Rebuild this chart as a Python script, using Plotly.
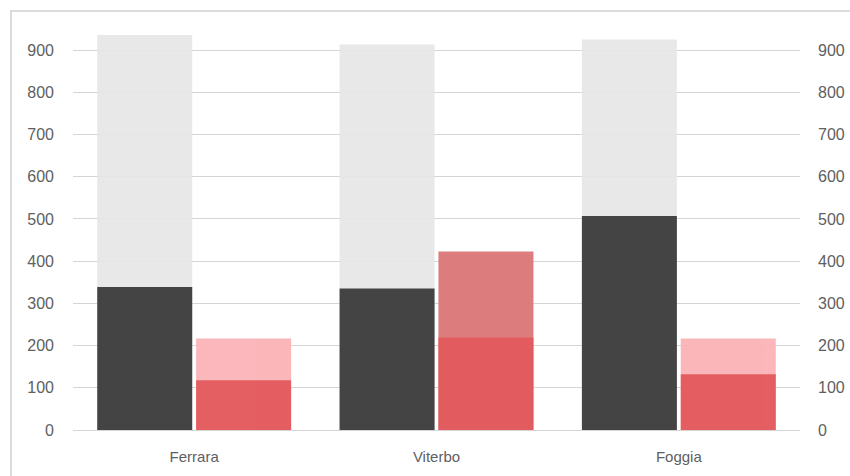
import plotly.graph_objects as go

# Categories and values
cities = ["Ferrara", "Viterbo", "Foggia"]
totale = [936, 913, 925]          # light grey background bars
valore_a = [339, 335, 507]        # dark bars
soglia_b = [217, 423, 217]        # light red background bars
valore_b = [118, 219, 132]        # red bars
tick_vals = [0, 100, 200, 300, 400, 500, 600, 700, 800, 900]

soglia_colors = ["#fbb3b7" if s < 300 else "#db7676" for s in soglia_b]

fig = go.Figure()

left_offset, right_offset, bar_w = -0.40, 0.008, 0.392

fig.add_trace(go.Bar(x=cities, y=totale, offset=left_offset, width=bar_w,
                     marker=dict(color="#e6e6e6", line=dict(width=0)), opacity=0.93,
                     showlegend=False, hoverinfo="y"))
fig.add_trace(go.Bar(x=cities, y=valore_a, offset=left_offset, width=bar_w,
                     marker=dict(color="#3b3b3b", line=dict(width=0)), opacity=0.95,
                     showlegend=False, hoverinfo="y"))
fig.add_trace(go.Bar(x=cities, y=soglia_b, offset=right_offset, width=bar_w,
                     marker=dict(color=soglia_colors, line=dict(width=0)), opacity=0.95,
                     showlegend=False, hoverinfo="y"))
fig.add_trace(go.Bar(x=cities, y=valore_b, offset=right_offset, width=bar_w,
                     marker=dict(color="#e35a5d", line=dict(width=0)), opacity=0.95,
                     showlegend=False, hoverinfo="y"))

# invisible trace so the right-hand axis is drawn
fig.add_trace(go.Scatter(x=cities, y=[0, 0, 0], yaxis="y2", mode="markers",
                         marker=dict(opacity=0), showlegend=False, hoverinfo="skip"))

tick_font = dict(family="Liberation Sans, Arial, sans-serif", size=16, color="#606060")

fig.update_layout(
    width=850, height=476,
    margin=dict(l=73, r=50, t=29, b=46, autoexpand=False),
    paper_bgcolor="white", plot_bgcolor="white",
    barmode="overlay",
    xaxis=dict(type="category", showgrid=False, showline=False, ticks="",
               tickfont=dict(family="Liberation Sans, Arial, sans-serif", size=15, color="#606060"),
               range=[-0.5, 2.5], ticklabelstandoff=16, automargin=False),
    yaxis=dict(range=[0, 950], tickvals=tick_vals, showgrid=True,
               gridcolor="#d5d5d5", gridwidth=1, zeroline=True,
               zerolinecolor="#d5d5d5", zerolinewidth=1, showline=False,
               ticks="", tickfont=tick_font, ticklabelstandoff=18, automargin=False),
    yaxis2=dict(range=[0, 950], tickvals=tick_vals, overlaying="y", side="right",
                showgrid=False, zeroline=False, showline=False, ticks="",
                tickfont=tick_font, ticklabelstandoff=17, automargin=False),
    shapes=[dict(type="rect", xref="paper", yref="paper",
                 x0=(11 - 73) / 727, x1=1.2, y0=-0.3, y1=(430 - 11) / 401,
                 line=dict(color="#dcdcdc", width=2), fillcolor="rgba(0,0,0,0)",
                 layer="below")],
)

fig.write_html("out.html")
